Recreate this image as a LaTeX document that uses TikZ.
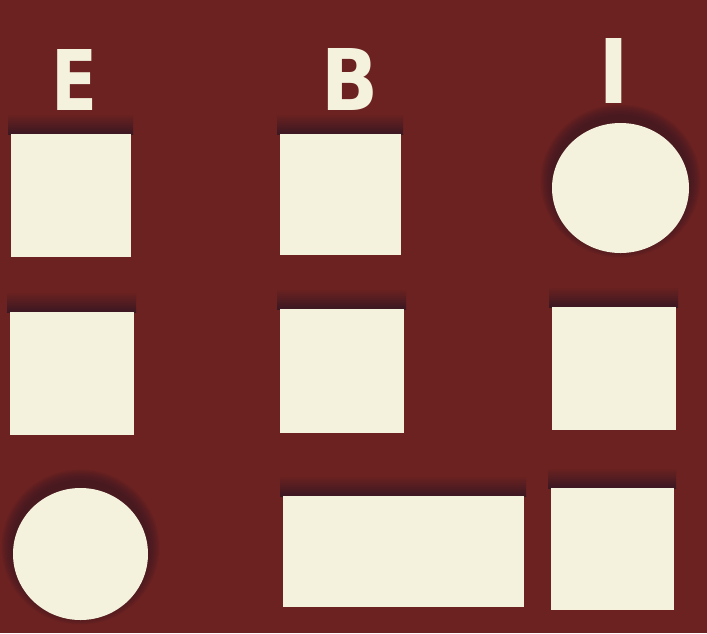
\documentclass[tikz,border=0pt]{standalone}
\usepackage{fontspec}
\setmainfont{DejaVu Sans}
\usetikzlibrary{backgrounds,calc,shapes.geometric}
\definecolor{bg}{HTML}{6B2220}
\definecolor{shadowc}{HTML}{3A1722}
\definecolor{cream}{HTML}{F4F1DC}
\tikzset{
  card/.style={rectangle, fill=cream, draw=none, inner sep=0pt, outer sep=0pt},
  disc/.style={ellipse, fill=cream, draw=none, inner sep=0pt, outer sep=0pt},
  letter/.style={inner sep=0pt, outer sep=0pt, text=cream, font=\bfseries},
}
\newcommand{\bandabove}[1]{%
  \shade[top color=bg, bottom color=shadowc]
    ($(#1.north west)+(-3,-20)$) rectangle ($(#1.north east)+(2,0.5)$);}
\newcommand{\haloabove}[3]{%
  \foreach \k in {1,...,7}{
    \fill[shadowc, opacity=0.14] ($(#1.center)+(0,-7)$) ellipse ({#2+1.6*\k} and {#3+1.6*\k});}}
\begin{document}
\begin{tikzpicture}[x=1pt,y=-1pt]
\useasboundingbox (0,0) rectangle (707,633);
% letters
\node[letter] (lE) at (74.5,79.5) {\resizebox{46pt}{61pt}{E}};
\node[letter] (lB) at (349.5,79) {\resizebox{57pt}{62pt}{B}};
\node[letter] (lI) at (614,70.5) {\resizebox{31pt}{65pt}{I}};
% row 1
\node[card, minimum width=120pt, minimum height=123pt] (e1) at (71,195.5) {};
\node[card, minimum width=121pt, minimum height=121pt] (b1) at (340.5,194.5) {};
\node[disc, minimum width=137pt, minimum height=130pt] (i1) at (620.5,188) {};
% row 2
\node[card, minimum width=124pt, minimum height=123pt] (e2) at (72,373.5) {};
\node[card, minimum width=124pt, minimum height=124pt] (b2) at (342,371) {};
\node[card, minimum width=124pt, minimum height=123pt] (i2) at (614,368.5) {};
% row 3
\node[disc, minimum width=135pt, minimum height=132pt] (e3) at (80.5,554) {};
\node[card, minimum width=241pt, minimum height=111pt] (b3) at (403.5,551.5) {};
\node[card, minimum width=123pt, minimum height=122pt] (i3) at (612.5,549) {};
\begin{scope}[on background layer]
  \fill[bg] (0,0) rectangle (707,633);
  \bandabove{e1}\bandabove{b1}
  \bandabove{e2}\bandabove{b2}\bandabove{i2}
  \bandabove{b3}\bandabove{i3}
  \haloabove{i1}{68.5}{65}
  \haloabove{e3}{67.5}{66}
\end{scope}
\end{tikzpicture}
\end{document}
